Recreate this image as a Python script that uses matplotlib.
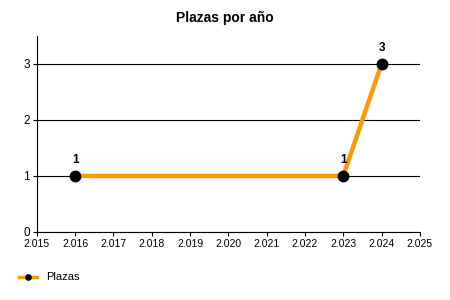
import matplotlib
matplotlib.use("Agg")
import matplotlib.pyplot as plt
from matplotlib.ticker import FuncFormatter, MultipleLocator

plt.rcParams['font.family'] = ['Liberation Sans', 'DejaVu Sans']

years = [2016, 2023, 2024]
plazas = [1, 1, 3]

fig = plt.figure(figsize=(4.5, 3), dpi=100)
ax = fig.add_axes([0.082, 0.227, 0.851, 0.653])

ax.plot(years, plazas, color='#FF9900', lw=3.2, marker='o', ms=7.5,
        mfc='black', mec='black', label='Plazas', zorder=3)
for x, y in zip(years, plazas):
    ax.annotate(str(y), (x, y), xytext=(0, 7), textcoords='offset points',
                ha='center', va='bottom', fontsize=8.5, fontweight='bold')

ax.set_xlim(2015, 2025)
ax.set_ylim(0, 3.5)
ax.xaxis.set_major_locator(MultipleLocator(1))
ax.yaxis.set_major_locator(MultipleLocator(1))
ax.xaxis.set_major_formatter(FuncFormatter(lambda v, p: f"{int(v):,}".replace(",", ".")))
ax.yaxis.grid(True, color='black', lw=0.8)
ax.set_axisbelow(True)
for s in ['top', 'right']:
    ax.spines[s].set_visible(False)
ax.tick_params(labelsize=7.5, length=3, width=0.8, pad=2)
ax.tick_params(axis='y', labelsize=8.5)

fig.text(0.5, 0.94, 'Plazas por año', ha='center', va='center',
         fontsize=10, fontweight='bold')

leg = fig.legend(handles=ax.get_lines(), loc='center left', bbox_to_anchor=(0.02, 0.075),
                 frameon=False, fontsize=8, handlelength=1.6, markerscale=0.5)
leg.get_lines()[0].set_linewidth(2.5)
fig.savefig('out.png', dpi=100)
